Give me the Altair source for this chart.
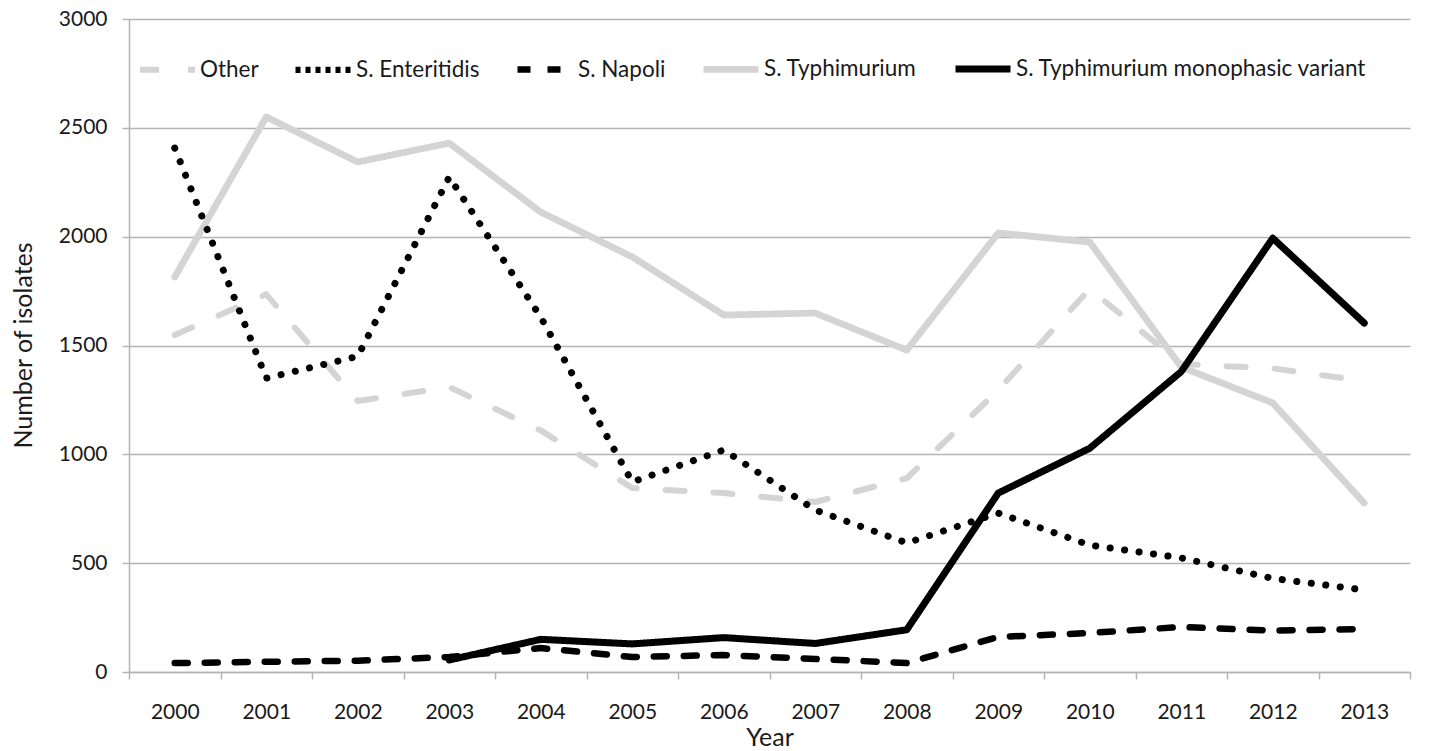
import altair as alt
import pandas as pd

years = list(range(2000, 2014))
series_names = ["Other", "S. Enteritidis", "S. Napoli", "S. Typhimurium",
                "S. Typhimurium monophasic variant"]
other = [1548, 1735, 1245, 1309, 1110, 845, 822, 781, 890, 1295, 1760, 1415, 1395, 1337]
enteritidis = [2407, 1350, 1450, 2274, 1630, 873, 1020, 744, 593, 730, 583, 524, 430, 377]
napoli = [41, 47, 52, 69, 110, 69, 78, 60, 41, 161, 179, 207, 190, 197]
typhimurium = [1815, 2550, 2343, 2430, 2113, 1907, 1640, 1649, 1479, 2017, 1975, 1401, 1236, 776]
mono_years = years[3:]
mono = [55, 150, 129, 158, 131, 194, 822, 1028, 1380, 1993, 1603]
y_ticks = [0, 500, 1000, 1500, 2000, 2500, 3000]

rows = []
for name, ys, vals in [
    (series_names[3], years, typhimurium),
    (series_names[0], years, other),
    (series_names[2], years, napoli),
    (series_names[4], mono_years, mono),
]:
    for yr, v in zip(ys, vals):
        rows.append({"Year": str(yr), "Series": name, "Value": v})
df = pd.DataFrame(rows)
df_ent = pd.DataFrame({"Year": [str(y) for y in years], "Series": series_names[1],
                       "Value": enteritidis})

FONT = "Lato"
GRID = "#b4b4b4"
LIGHT = "#d4d4d4"

color_scale = alt.Scale(domain=series_names,
                        range=[LIGHT, "#000000", "#000000", LIGHT, "#000000"])
# second entry only shapes the legend symbol (the dotted line is drawn in its own layer)
dash_scale = alt.Scale(domain=series_names,
                       range=[[19, 29], [5, 5], [13, 17], [1, 0], [1, 0]])
width_scale = alt.Scale(domain=series_names, range=[6, 7, 7, 6, 6])

legend = alt.Legend(
    title=None, orient="none", direction="horizontal", legendX=8, legendY=19,
    symbolType="stroke", symbolSize=3025, symbolStrokeWidth=6,
    labelFont=FONT, labelFontSize=22.5, labelColor="#1a1a1a", labelOffset=2,
    columnPadding=24, padding=0, labelLimit=500,
)

x_enc = alt.X("Year:O",
              scale=alt.Scale(paddingInner=0, paddingOuter=0),
              axis=alt.Axis(title="Year", tickBand="extent", labelAngle=0, grid=False,
                            tickSize=7, labelPadding=22, titleY=73,
                            titleBaseline="alphabetic"))
y_enc = alt.Y("Value:Q",
              scale=alt.Scale(domain=[0, 3000]),
              axis=alt.Axis(title="Number of isolates", values=y_ticks, grid=True,
                            format="d", tickSize=7, labelPadding=15,
                            titleX=-98, titleY=326, titleAngle=270,
                            titleAlign="center", titleBaseline="alphabetic"))

main = alt.Chart(df).mark_line(strokeCap="round", strokeJoin="round").encode(
    x=x_enc,
    y=y_enc,
    color=alt.Color("Series:N", scale=color_scale, legend=legend),
    strokeDash=alt.StrokeDash("Series:N", scale=dash_scale, legend=legend),
    strokeWidth=alt.StrokeWidth("Series:N", scale=width_scale, legend=None),
    order=alt.Order("Year:O"),
)

dotted = alt.Chart(df_ent).mark_line(
    color="#000000", strokeDash=[0.1, 14.5], strokeWidth=7,
    strokeCap="round", strokeJoin="round"
).encode(
    x=x_enc,
    y=y_enc,
    order=alt.Order("Year:O"),
)

chart = alt.layer(main, dotted).properties(
    width=1281, height=653,
    padding={"left": 121, "top": 11, "right": 11, "bottom": 79},
    autosize=alt.AutoSizeParams(type="none"),
).configure_axis(
    domainColor=GRID, domainWidth=1.5, tickColor=GRID, tickWidth=1.5,
    gridColor=GRID, gridWidth=1.5,
    labelFont=FONT, labelFontSize=21, labelColor="#1a1a1a",
    titleFont=FONT, titleFontSize=25, titleFontWeight="normal", titleColor="#1a1a1a",
).configure_view(stroke=None)

chart.save("out.html", embed_options={"renderer": "svg", "actions": False})
